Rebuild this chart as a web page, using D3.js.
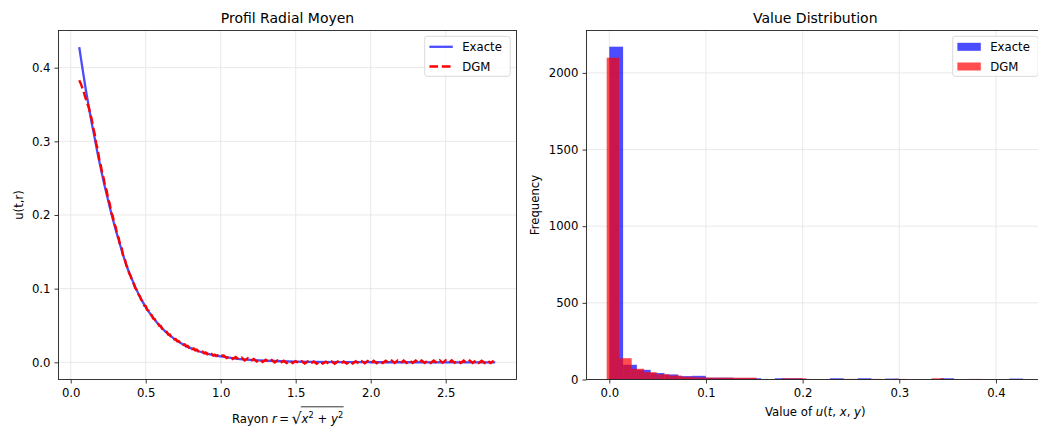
<!DOCTYPE html>
<html><head><meta charset="utf-8">
<script src="https://cdn.jsdelivr.net/npm/d3@7"></script>
<style>
body{margin:0;background:#fff}
svg{display:block}
text{font-family:"DejaVu Sans",sans-serif;fill:#000}
</style>
</head><body>
<svg id="c" width="1038" height="428"></svg>
<script>
// ---------- data: radial profile ----------
const exactR = [0.057,0.08,0.10,0.12,0.14,0.16,0.18,0.20,0.22,0.24,0.26,0.28,0.30,0.32,0.34,0.36,0.38,0.40,
  0.42,0.44,0.46,0.48,0.50,0.52,0.54,0.56,0.58,0.60,0.62,0.64,0.66,0.68,0.70,0.75,0.80,0.85,0.90,0.95,1.00,
  1.10,1.20,1.30,1.40,1.50,1.60,1.80,2.00,2.20,2.50,2.83];
const exactU = [0.428,0.397,0.371,0.348,0.325,0.3045,0.283,0.264,0.245,0.228,0.211,0.195,0.180,0.166,0.152,0.139,0.127,0.117,
  0.107,0.098,0.0896,0.082,0.075,0.0688,0.063,0.0577,0.0528,0.0484,0.0441,0.0402,0.0367,0.0335,0.0305,0.0243,0.0193,0.0153,0.0122,0.0098,0.0079,
  0.0051,0.0033,0.0022,0.0014,0.0009,0.0006,0.00025,0.0001,0.00004,0.0,0.0];

const dgmR = [0.057,
  0.07,0.08,0.09,0.10,0.11,0.12,0.13,0.14,0.15,0.16,0.17,0.18,0.19,0.20,0.21,0.22,0.23,0.24,0.25,0.26,0.27,0.28,
  0.29,0.30,0.31,0.32,0.33,0.34,0.35,0.36,0.37,0.38,0.39,0.40,0.41,0.42,0.43,0.44,0.45,0.46,0.47,0.48,0.49,
  0.50,0.51,0.52,0.53,0.54,0.55,0.56,0.57,0.58,0.59,0.60,0.61,0.62,0.63,0.64,0.65,0.66,0.67,0.68,0.69,
  0.70,0.71,0.72,0.73,0.74,0.75,0.76,0.77,0.78,0.79,0.80,0.81,0.82,0.83,0.84,0.85,0.86,0.87,0.88,0.89,
  0.90,0.91,0.92,0.93,0.94,0.95,0.96,0.97,0.98,0.99,1.00,
  1.02,1.04,1.06,1.08,1.10,1.12,1.14,1.16,1.18,1.20,1.22,1.24,1.26,1.28,1.30,1.32,1.34,1.36,1.38,1.40,
  1.42,1.44,1.46,1.48,1.50,1.52,1.54,1.56,1.58,1.60,1.62,1.64,1.66,1.68,1.70,1.72,1.74,1.76,1.78,1.80,
  1.82,1.84,1.86,1.88,1.90,1.92,1.94,1.96,1.98,2.00,2.02,2.04,2.06,2.08,2.10,2.12,2.14,2.16,2.18,2.20,
  2.22,2.24,2.26,2.28,2.30,2.32,2.34,2.36,2.38,2.40,2.42,2.44,2.46,2.48,2.50,2.52,2.54,2.56,2.58,2.60,
  2.62,2.64,2.66,2.68,2.70,2.72,2.74,2.76,2.78,2.80,2.82];
const dgmU = [0.383,
  0.377,0.371,0.365,0.358,0.352,0.346,0.338,0.330,0.319,0.310,0.297,0.289,0.276,0.268,0.257,0.250,0.238,0.233,0.221,0.216,0.203,0.199,
  0.188,0.184,0.172,0.169,0.158,0.155,0.144,0.141,0.132,0.128,0.121,0.117,0.110,0.107,0.101,0.098,0.093,0.090,0.085,0.082,0.077,
  0.0765,0.0712,0.0700,0.0651,0.0640,0.0594,0.0588,0.0544,0.0538,0.0497,0.0494,0.0455,0.0452,0.0415,0.0412,0.0378,0.0377,0.0344,0.0345,0.0313,
  0.0316,0.0287,0.0290,0.0262,0.0266,0.0240,0.0244,0.0218,0.0224,0.0198,0.0206,0.0180,0.0188,0.0164,0.0172,0.0149,0.0158,0.0135,0.0145,0.0122,
  0.0134,0.0111,0.0123,0.0101,0.0113,0.0092,0.0104,0.0084,0.0096,0.0077,0.0089,
  0.0092,0.0058,0.0083,0.0046,0.0071,0.0037,0.0062,0.0026,0.0055,0.0019,0.0046,0.0012,0.0041,0.0006,0.0035,0.0003,0.0030,-0.0003,0.0026,-0.0005,
  0.0022,-0.0009,0.0019,-0.0011,0.0016,-0.0013,0.0014,-0.0016,0.0012,-0.0017,0.0010,-0.0019,0.0011,-0.0018,0.0009,-0.0020,0.0010,-0.0019,0.0011,-0.0018,
  0.0012,-0.0017,0.0013,-0.0016,0.0015,-0.0015,0.0016,-0.0013,0.0018,-0.0012,0.0020,-0.0011,0.0021,-0.0010,0.0022,-0.0009,0.0023,-0.0009,0.0024,-0.0008,
  0.0024,-0.0008,0.0025,-0.0008,0.0025,-0.0007,0.0025,-0.0008,0.0024,-0.0008,0.0025,-0.0007,0.0026,-0.0007,0.0026,-0.0006,0.0026,-0.0007,0.0025,-0.0008,
  0.0024,-0.0008,0.0023,-0.0009,0.0023,-0.0009,0.0022,-0.0010,0.0021,-0.0010,0.0020];

const radialXTicks = [0, 0.5, 1.0, 1.5, 2.0, 2.5];
const radialYTicks = [0, 0.1, 0.2, 0.3, 0.4];

// ---------- data: value distribution (30 bins each) ----------
const histExactRange = [0, 0.428];
const histExactCounts = [2171,96,63,42,33,22,24,12,12,8,8,0,8,8,0,0,8,0,8,0,6,0,0,0,8,0,0,0,0,6];
const histDgmRange = [-0.0027, 0.385];
const histDgmCounts = [2099,139,70,48,34,26,18,14,12,12,12,12,0,0,8,8,0,0,0,4,0,4,0,4,0,0,8,0,0,4];
const histXTicks = [0, 0.1, 0.2, 0.3, 0.4];
const histYTicks = [0, 500, 1000, 1500, 2000];

const seriesNames = ["Exacte", "DGM"];

// ---------- drawing ----------
const svg = d3.select("#c");
const FS = 11.7;
const gridColor = "#e6e6e6";

function frame(g, x0, x1, y0, y1) {
  g.append("rect").attr("x", x0).attr("y", y0).attr("width", x1 - x0).attr("height", y1 - y0)
    .attr("fill", "none").attr("stroke", "#222").attr("stroke-width", 0.9);
}

function grid(g, xs, ys, xt, yt, x0, x1, y0, y1) {
  g.append("g").selectAll("line").data(xt).join("line")
    .attr("x1", d => xs(d)).attr("x2", d => xs(d)).attr("y1", y0).attr("y2", y1)
    .attr("stroke", gridColor).attr("stroke-width", 0.9);
  g.append("g").selectAll("line").data(yt).join("line")
    .attr("y1", d => ys(d)).attr("y2", d => ys(d)).attr("x1", x0).attr("x2", x1)
    .attr("stroke", gridColor).attr("stroke-width", 0.9);
}

function tickLabels(g, xs, ys, xt, yt, xfmt, yfmt, x0, y1) {
  const xa = d3.axisBottom(xs).tickValues(xt).tickFormat(xfmt).tickSize(4).tickPadding(5.5);
  const gx = g.append("g").attr("transform", `translate(0,${y1})`).call(xa);
  gx.select(".domain").remove();
  gx.selectAll("line").attr("stroke", "#222").attr("stroke-width", 0.9);
  gx.selectAll("text").attr("font-size", FS).attr("font-family", "DejaVu Sans").attr("fill", "#000");
  const ya = d3.axisLeft(ys).tickValues(yt).tickFormat(yfmt).tickSize(4).tickPadding(4);
  const gy = g.append("g").attr("transform", `translate(${x0},0)`).call(ya);
  gy.select(".domain").remove();
  gy.selectAll("line").attr("stroke", "#222").attr("stroke-width", 0.9);
  gy.selectAll("text").attr("font-size", FS).attr("font-family", "DejaVu Sans").attr("fill", "#000");
}

// ===== Left: radial profile =====
const L = {x0: 58.5, x1: 516.5, y0: 30.5, y1: 379.5};
const xL = d3.scaleLinear().domain([-0.0813, 2.972]).range([L.x0, L.x1]);
const yL = d3.scaleLinear().domain([-0.02335, 0.4505]).range([L.y1, L.y0]);
const gL = svg.append("g");
grid(gL, xL, yL, radialXTicks, radialYTicks, L.x0, L.x1, L.y0, L.y1);

const exactData = d3.zip(exactR, exactU);
const dgmData = d3.zip(dgmR, dgmU);
gL.append("path").datum(exactData)
  .attr("d", d3.line().x(d => xL(d[0])).y(d => yL(d[1])).curve(d3.curveMonotoneX))
  .attr("fill", "none").attr("stroke", "#0000ff").attr("stroke-opacity", 0.7).attr("stroke-width", 2.3);
gL.append("path").datum(dgmData)
  .attr("d", d3.line().x(d => xL(d[0])).y(d => yL(d[1])))
  .attr("fill", "none").attr("stroke", "#ff0000").attr("stroke-width", 2.4)
  .attr("stroke-dasharray", "8.7,3.7");
frame(gL, L.x0, L.x1, L.y0, L.y1);
tickLabels(gL, xL, yL, radialXTicks, radialYTicks, d3.format(".1f"), d3.format(".1f"), L.x0, L.y1);

svg.append("text").attr("x", (L.x0 + L.x1) / 2).attr("y", 23).attr("text-anchor", "middle")
  .attr("font-size", 14).text("Profil Radial Moyen");
svg.append("text").attr("transform", `translate(23,${(L.y0 + L.y1) / 2}) rotate(-90)`)
  .attr("text-anchor", "middle").attr("font-size", FS).text("u(t,r)");

// math x label: Rayon r = sqrt(x^2 + y^2)
(function () {
  const g = svg.append("g");
  const base = 423;
  const t1 = g.append("text").attr("y", base).attr("font-size", FS);
  t1.append("tspan").text("Rayon ");
  t1.append("tspan").attr("font-style", "italic").text("r");
  t1.append("tspan").text("\u2009=\u2009");
  const t2 = g.append("text").attr("y", base + 1).attr("font-size", 16).text("\u221A");
  const t3 = g.append("text").attr("y", base).attr("font-size", FS);
  t3.append("tspan").attr("font-style", "italic").text("x");
  t3.append("tspan").attr("font-size", 8.2).attr("dy", -4.8).text("2");
  t3.append("tspan").attr("dy", 4.8).text(" + ");
  t3.append("tspan").attr("font-style", "italic").text("y");
  t3.append("tspan").attr("font-size", 8.2).attr("dy", -4.8).text("2");
  const w1 = t1.node().getComputedTextLength();
  const w2 = t2.node().getComputedTextLength();
  const w3 = t3.node().getComputedTextLength();
  const total = w1 + w2 + w3;
  const xs0 = (L.x0 + L.x1) / 2 - total / 2;
  t1.attr("x", xs0);
  t2.attr("x", xs0 + w1);
  t3.attr("x", xs0 + w1 + w2);
  g.append("line").attr("x1", xs0 + w1 + w2 - 0.8).attr("x2", xs0 + total + 0.5)
    .attr("y1", 406.8).attr("y2", 406.8).attr("stroke", "#000").attr("stroke-width", 0.8);
})();

// legend left
(function () {
  const lx = 424.7, ly = 36.3, lw = 85.5, lh = 40;
  const g = svg.append("g");
  g.append("rect").attr("x", lx).attr("y", ly).attr("width", lw).attr("height", lh).attr("rx", 2.5)
    .attr("fill", "#fff").attr("fill-opacity", 0.8).attr("stroke", "#d6d6d6").attr("stroke-width", 0.9);
  const rows = [46.8, 66.5];
  g.append("line").attr("x1", lx + 4.7).attr("x2", lx + 28.1).attr("y1", rows[0]).attr("y2", rows[0])
    .attr("stroke", "#0000ff").attr("stroke-opacity", 0.7).attr("stroke-width", 2.3);
  g.append("line").attr("x1", lx + 4.7).attr("x2", lx + 28.1).attr("y1", rows[1]).attr("y2", rows[1])
    .attr("stroke", "#ff0000").attr("stroke-width", 2.3).attr("stroke-dasharray", "8.7,3.7");
  seriesNames.forEach((n, i) => {
    g.append("text").attr("x", lx + 37.5).attr("y", rows[i] + 4.2).attr("font-size", FS).text(n);
  });
})();

// ===== Right: histogram =====
const R = {x0: 586.5, x1: 1044, y0: 30.5, y1: 379.5};
const xR = d3.scaleLinear().domain([-0.02359, 0.4497]).range([R.x0, R.x1]);
const yR = d3.scaleLinear().domain([0, 2276.6]).range([R.y1, R.y0]);
const gR = svg.append("g");
grid(gR, xR, yR, histXTicks, histYTicks, R.x0, R.x1, R.y0, R.y1);

function binsOf(range, counts) {
  const w = (range[1] - range[0]) / counts.length;
  return counts.map((c, i) => ({a: range[0] + i * w, b: range[0] + (i + 1) * w, c}));
}
const fills = ["#0000ff", "#ff0000"];
[[histExactRange, histExactCounts], [histDgmRange, histDgmCounts]].forEach(([rg, cs], k) => {
  gR.append("g").selectAll("rect").data(binsOf(rg, cs).filter(d => d.c > 0)).join("rect")
    .attr("x", d => xR(d.a)).attr("width", d => xR(d.b) - xR(d.a))
    .attr("y", d => yR(d.c)).attr("height", d => yR(0) - yR(d.c))
    .attr("fill", fills[k]).attr("fill-opacity", 0.7);
});
frame(gR, R.x0, R.x1, R.y0, R.y1);
tickLabels(gR, xR, yR, histXTicks, histYTicks, d3.format(".1f"), d3.format("d"), R.x0, R.y1);

svg.append("text").attr("x", (R.x0 + R.x1) / 2).attr("y", 23).attr("text-anchor", "middle")
  .attr("font-size", 14).text("Value Distribution");
svg.append("text").attr("transform", `translate(539,${(R.y0 + R.y1) / 2}) rotate(-90)`)
  .attr("text-anchor", "middle").attr("font-size", FS).text("Frequency");
(function () {
  const t = svg.append("text").attr("x", (R.x0 + R.x1) / 2).attr("y", 416).attr("text-anchor", "middle").attr("font-size", FS);
  t.append("tspan").text("Value of ");
  t.append("tspan").attr("font-style", "italic").text("u");
  t.append("tspan").text("(");
  t.append("tspan").attr("font-style", "italic").text("t");
  t.append("tspan").text(", ");
  t.append("tspan").attr("font-style", "italic").text("x");
  t.append("tspan").text(", ");
  t.append("tspan").attr("font-style", "italic").text("y");
  t.append("tspan").text(")");
})();

// legend right
(function () {
  const lx = 952.7, ly = 36.3, lw = 85.5, lh = 40;
  const g = svg.append("g");
  g.append("rect").attr("x", lx).attr("y", ly).attr("width", lw).attr("height", lh).attr("rx", 2.5)
    .attr("fill", "#fff").attr("fill-opacity", 0.8).attr("stroke", "#d6d6d6").attr("stroke-width", 0.9);
  const rows = [46.8, 66.5];
  seriesNames.forEach((n, i) => {
    g.append("rect").attr("x", lx + 4.7).attr("y", rows[i] - 4).attr("width", 23.4).attr("height", 8)
      .attr("fill", fills[i]).attr("fill-opacity", 0.7);
    g.append("text").attr("x", lx + 37.5).attr("y", rows[i] + 4.2).attr("font-size", FS).text(n);
  });
})();
</script>
</body></html>
